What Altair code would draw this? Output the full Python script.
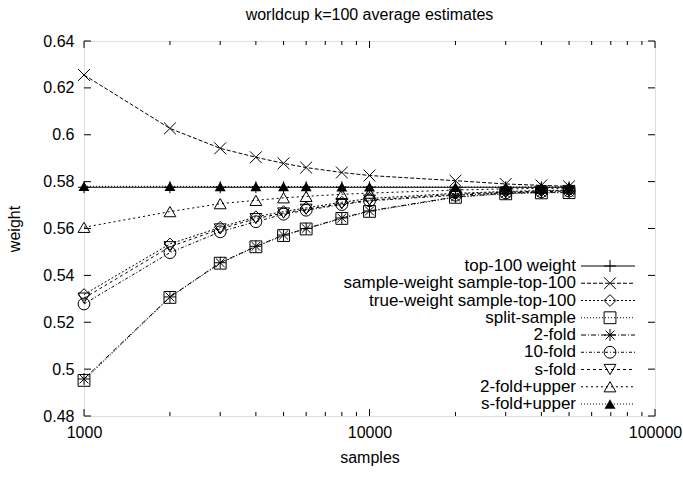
import altair as alt
import pandas as pd

# ---------------- data ----------------
samples = [1000, 2000, 3000, 4000, 5000, 6000, 8000, 10000, 20000, 30000, 40000, 50000]

series_names = [
    "top-100 weight",
    "sample-weight sample-top-100",
    "true-weight sample-top-100",
    "split-sample",
    "2-fold",
    "10-fold",
    "s-fold",
    "2-fold+upper",
    "s-fold+upper",
]

top100_weight = [0.5776, 0.5776, 0.5776, 0.5776, 0.5776, 0.5776, 0.5776, 0.5776, 0.5776, 0.5776, 0.5776, 0.5776]
sample_weight = [0.6255, 0.6027, 0.5942, 0.5904, 0.5878, 0.5860, 0.5839, 0.5826, 0.5804, 0.5790, 0.5784, 0.5780]
true_weight = [0.5318, 0.5534, 0.5605, 0.5650, 0.5672, 0.5688, 0.5712, 0.5728, 0.5750, 0.5758, 0.5762, 0.5764]
split_sample = [0.4952, 0.5306, 0.5452, 0.5522, 0.5570, 0.5598, 0.5643, 0.5673, 0.5733, 0.5748, 0.5752, 0.5753]
two_fold = [0.4958, 0.5308, 0.5454, 0.5524, 0.5572, 0.5600, 0.5645, 0.5675, 0.5735, 0.5750, 0.5754, 0.5755]
ten_fold = [0.5278, 0.5497, 0.5586, 0.5629, 0.5661, 0.5678, 0.5702, 0.5718, 0.5742, 0.5752, 0.5757, 0.5760]
s_fold = [0.5303, 0.5522, 0.5598, 0.5642, 0.5666, 0.5682, 0.5706, 0.5721, 0.5746, 0.5755, 0.5760, 0.5762]
two_fold_upper = [0.5605, 0.5672, 0.5706, 0.5720, 0.5731, 0.5737, 0.5746, 0.5751, 0.5764, 0.5769, 0.5771, 0.5772]
s_fold_upper = [0.5780, 0.5780, 0.5779, 0.5779, 0.5779, 0.5779, 0.5778, 0.5778, 0.5777, 0.5777, 0.5777, 0.5777]

all_values = [top100_weight, sample_weight, true_weight, split_sample, two_fold,
              ten_fold, s_fold, two_fold_upper, s_fold_upper]

y_ticks = [0.48, 0.50, 0.52, 0.54, 0.56, 0.58, 0.60, 0.62, 0.64]
x_major = [1000, 10000, 100000]
x_minor = [2000, 3000, 4000, 5000, 6000, 7000, 8000, 9000,
           20000, 30000, 40000, 50000, 60000, 70000, 80000, 90000]

# ---------------- tables ----------------
rows = []
for name, vals in zip(series_names, all_values):
    for s, v in zip(samples, vals):
        rows.append({"samples": s, "weight": v, "series": name})
df = pd.DataFrame(rows)
legend_df = pd.DataFrame({"series": series_names, "row": list(range(len(series_names)))})
ytick_df = pd.DataFrame({"weight": y_ticks})
xmaj_df = pd.DataFrame({"samples": x_major})
xmin_df = pd.DataFrame({"samples": x_minor})

# ---------------- style ----------------
FONT = "Liberation Sans"
FS = 16
W, H = 571, 375

dash_range = [[1, 0], [4, 2], [2, 2], [1, 2], [5, 2, 1, 2], [3, 2, 1, 2], [3, 3], [2, 3], [1, 2]]
shape_range = [
    "M-1,0L1,0M0,-1L0,1",
    "M-1,-1L1,1M-1,1L1,-1",
    "diamond",
    "square",
    "M-1,0L1,0M0,-1L0,1M-0.75,-0.75L0.75,0.75M-0.75,0.75L0.75,-0.75",
    "circle",
    "triangle-down",
    "triangle-up",
    "triangle-up",
]
dash_scale = alt.Scale(domain=series_names, range=dash_range)
shape_scale = alt.Scale(domain=series_names, range=shape_range)
x_scale = alt.Scale(type="log", domain=[1000, 100000], nice=False)
y_scale = alt.Scale(domain=[0.48, 0.64], nice=False, zero=False)
leg_scale = alt.Scale(domain=[0, 8], range=[225, 363], nice=False, zero=False)

x_axis = alt.Axis(values=x_major, format="d", ticks=False, domain=False, grid=False,
                  labelFont=FONT, labelFontSize=FS, labelPadding=8, labelColor="black",
                  title="samples", titleFont=FONT, titleFontSize=FS, titleFontWeight="normal",
                  titlePadding=9, titleColor="black", labelFlush=False)
X_main = alt.X("samples:Q", scale=x_scale, axis=x_axis)
Y_main = alt.Y("weight:Q", scale=y_scale,
               axis=alt.Axis(values=y_ticks, format="~g", ticks=False, domain=False, grid=False,
                             labelFont=FONT, labelFontSize=FS, labelPadding=10, labelColor="black",
                             title="weight", titleFont=FONT, titleFontSize=FS, titleFontWeight="normal",
                             titlePadding=20, titleColor="black", labelFlush=False))
Y_plain = alt.Y("weight:Q", scale=y_scale, axis=None)

lines = alt.Chart(df).mark_line(color="black", strokeWidth=1).encode(
    x=X_main, y=Y_main,
    strokeDash=alt.StrokeDash("series:N", scale=dash_scale, legend=None),
    detail="series:N",
)
points_open = alt.Chart(df).transform_filter(
    alt.datum.series != "s-fold+upper"
).mark_point(filled=False, color="black", strokeWidth=1, size=140, opacity=1).encode(
    x=X_main, y=Y_plain,
    shape=alt.Shape("series:N", scale=shape_scale, legend=None),
)
points_filled = alt.Chart(df).transform_filter(
    alt.datum.series == "s-fold+upper"
).mark_point(filled=True, color="black", size=120, opacity=1).encode(
    x=X_main, y=Y_plain,
    shape=alt.Shape("series:N", scale=shape_scale, legend=None),
)

# inward ticks (gnuplot style)
ytl = alt.Chart(ytick_df).mark_rule(color="black", strokeWidth=1).encode(
    y=Y_plain, x=alt.value(0), x2=alt.value(7))
ytr = alt.Chart(ytick_df).mark_rule(color="black", strokeWidth=1).encode(
    y=Y_plain, x=alt.value(W - 7), x2=alt.value(W))
xmb = alt.Chart(xmaj_df).mark_rule(color="black", strokeWidth=1).encode(
    x=X_main, y=alt.value(H), y2=alt.value(H - 7))
xmt = alt.Chart(xmaj_df).mark_rule(color="black", strokeWidth=1).encode(
    x=X_main, y=alt.value(0), y2=alt.value(7))
xnb = alt.Chart(xmin_df).mark_rule(color="black", strokeWidth=1).encode(
    x=X_main, y=alt.value(H), y2=alt.value(H - 4))
xnt = alt.Chart(xmin_df).mark_rule(color="black", strokeWidth=1).encode(
    x=X_main, y=alt.value(0), y2=alt.value(4))

# in-plot legend (gnuplot style: label, then line sample with marker)
Y_leg = alt.Y("row:Q", scale=leg_scale, axis=None)
leg_text = alt.Chart(legend_df).mark_text(
    align="right", baseline="middle", font=FONT, fontSize=17, color="black"
).encode(y=Y_leg, x=alt.value(492), text="series:N")
leg_line = alt.Chart(legend_df).mark_rule(color="black", strokeWidth=1).encode(
    y=Y_leg, x=alt.value(497), x2=alt.value(551),
    strokeDash=alt.StrokeDash("series:N", scale=dash_scale, legend=None))
leg_pts = alt.Chart(legend_df).transform_filter(
    alt.datum.series != "s-fold+upper"
).mark_point(filled=False, color="black", strokeWidth=1, size=140, opacity=1).encode(
    y=Y_leg, x=alt.value(526),
    shape=alt.Shape("series:N", scale=shape_scale, legend=None))
leg_pts_f = alt.Chart(legend_df).transform_filter(
    alt.datum.series == "s-fold+upper"
).mark_point(filled=True, color="black", size=120, opacity=1).encode(
    y=Y_leg, x=alt.value(526),
    shape=alt.Shape("series:N", scale=shape_scale, legend=None))

chart = alt.layer(
    lines, points_open, points_filled,
    ytl, ytr, xmb, xmt, xnb, xnt,
    leg_text, leg_line, leg_pts, leg_pts_f,
).resolve_scale(y="independent").properties(
    width=W, height=H,
    title=alt.TitleParams("worldcup k=100 average estimates", font=FONT, fontSize=FS,
                          fontWeight="normal", color="black", anchor="middle",
                          baseline="alphabetic", offset=14, dy=17),
    autosize=alt.AutoSizeParams(type="none"),
    padding={"left": 84, "top": 41, "right": 28, "bottom": 61},
).configure_view(stroke="black", strokeWidth=1).configure(background="white")

chart.save("out.html", embed_options={"renderer": "svg", "actions": False})
